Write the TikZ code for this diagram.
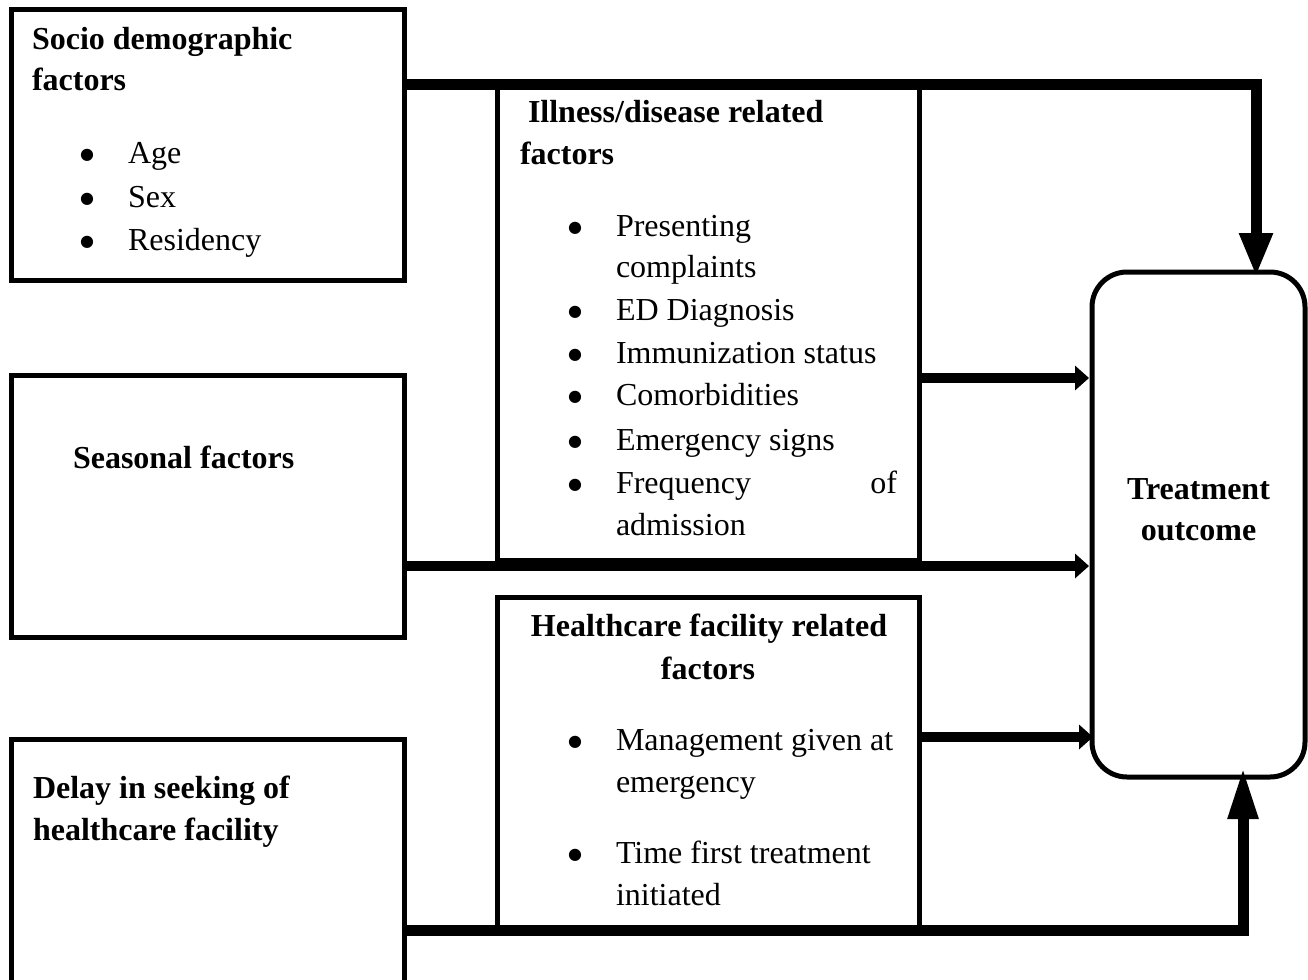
\documentclass[tikz,border=0pt]{standalone}
\usepackage{fontspec}
\setmainfont{Liberation Serif}
\newfontfamily\bulfont{DejaVu Sans}
\usetikzlibrary{arrows.meta}
\newcommand{\bigbul}{●}
\tikzset{
  box/.style={draw, line width=5pt, inner sep=0pt, outer sep=0pt, anchor=north west},
  txt/.style={inner sep=0pt, outer sep=0pt, anchor=base west, font=\fontsize{32}{40}\selectfont},
  btxt/.style={txt, font=\fontsize{32}{40}\selectfont\bfseries},
  ctxt/.style={btxt, anchor=base},
  bullet/.style={inner sep=0pt, outer sep=0pt, anchor=base, font=\bulfont\fontsize{16}{16}\selectfont},
  bigline/.style={line width=11pt, line join=miter},
  sidearrow/.style={line width=10pt, -{Triangle[length=14pt,width=24pt]}},
}
\begin{document}
\begin{tikzpicture}[x=1pt,y=-1pt]
\useasboundingbox (0,0) rectangle (1308,979);
\clip (0,0) rectangle (1308,979);
% boxes
\node[box, minimum width=393pt, minimum height=271pt] (socio) at (11.5,9.5) {};
\node[box, minimum width=393pt, minimum height=262pt] (season) at (11.5,375.5) {};
\node[box, minimum width=393pt, minimum height=300pt] (delay) at (11.5,739) {};
\node[box, minimum width=422pt, minimum height=472pt] (illness) at (497,88) {};
\node[box, minimum width=422pt, minimum height=332.5pt] (health) at (497,597.5) {};
\node[box, minimum width=213pt, minimum height=505pt, rounded corners=35pt] (outcome) at (1092,272) {};

% connectors
\coordinate (tc) at (1256,85);
\coordinate (tt) at (1256,277);
\draw[bigline, -{Triangle[length=44pt,width=31pt]}] (socio.east |- tc) -- (tc) -- (tt);
\coordinate (bc) at (1243,930);
\coordinate (bt) at (1243,767);
\draw[bigline, -{Triangle[length=52pt,width=28pt]}] (delay.east |- bc) -- (bc) -- (bt);
\coordinate (a1) at (1089,378);
\draw[sidearrow] (illness.east |- a1) -- (a1);
\coordinate (a2) at (1089,566);
\draw[sidearrow] (season.east |- a2) -- (a2);
\coordinate (a3) at (1093,737);
\draw[sidearrow] (health.east |- a3) -- (a3);

% socio text
\node[btxt] (s1) at (32,50) {Socio demographic};
\node[btxt] (s2) at (32,91) {factors};
\node[bullet] (sb1) at (87,159) {\bigbul};
\node[bullet] (sb2) at (87,203) {\bigbul};
\node[bullet] (sb3) at (87,246) {\bigbul};
\node[txt] (s3) at (128,163) {Age};
\node[txt] (s4) at (128,207) {Sex};
\node[txt] (s5) at (128,250) {Residency};

% seasonal
\node[btxt] (se1) at (73,468) {Seasonal factors};

% delay
\node[btxt] (d1) at (33,798) {Delay in seeking of};
\node[btxt] (d2) at (33,840) {healthcare facility};

% illness
\node[btxt] (i1) at (528,123) {Illness/disease related};
\node[btxt] (i2) at (520,164) {factors};
\node[bullet] (ib1) at (575,232) {\bigbul};
\node[bullet] (ib2) at (575,316) {\bigbul};
\node[bullet] (ib3) at (575,359) {\bigbul};
\node[bullet] (ib4) at (575,401) {\bigbul};
\node[bullet] (ib5) at (575,446) {\bigbul};
\node[bullet] (ib6) at (575,489) {\bigbul};
\node[txt] (i3) at (616,236) {Presenting};
\node[txt] (i4) at (616,277) {complaints};
\node[txt] (i5) at (616,320) {ED Diagnosis};
\node[txt] (i6) at (616,363) {Immunization status};
\node[txt] (i7) at (616,405) {Comorbidities};
\node[txt] (i8) at (616,450) {Emergency signs};
\node[txt] (i9) at (616,493) {\hbox to 281pt{Frequency\hfill of}};
\node[txt] (i10) at (616,535) {admission};

% healthcare
\node[ctxt] (h1) at (709,636) {Healthcare facility related};
\node[ctxt] (h2) at (708,679) {factors};
\node[bullet] (hb1) at (575,746) {\bigbul};
\node[bullet] (hb2) at (575,859) {\bigbul};
\node[txt] (h3) at (616,750) {Management given at};
\node[txt] (h4) at (616,792) {emergency};
\node[txt] (h5) at (616,863) {Time first treatment};
\node[txt] (h6) at (616,905) {initiated};

% outcome
\node[ctxt] (o1) at (1198.5,499) {Treatment};
\node[ctxt] (o2) at (1198.5,540) {outcome};
\end{tikzpicture}
\end{document}
